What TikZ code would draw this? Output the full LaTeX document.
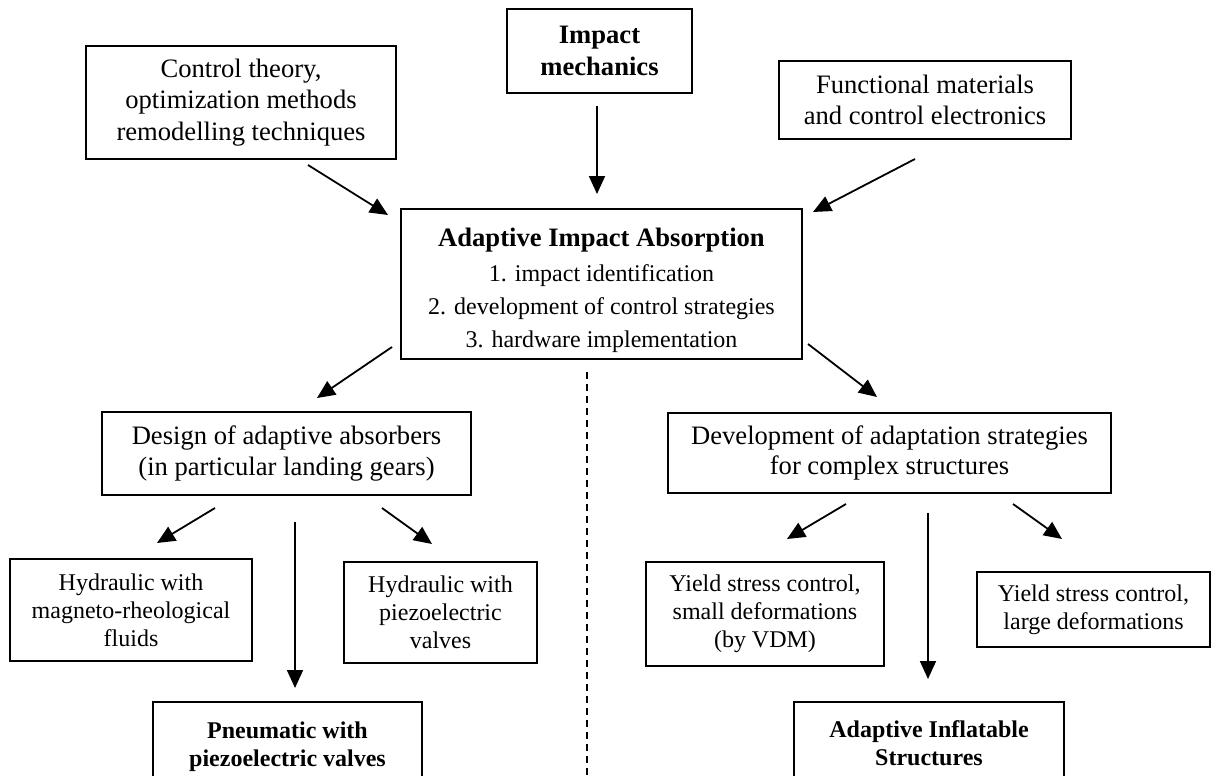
\documentclass[tikz,border=0pt]{standalone}
\usepackage{fontspec}
\setmainfont{Liberation Serif}
\usetikzlibrary{arrows.meta}
\begin{document}
\begin{tikzpicture}
[x=0.5pt,y=-0.5pt,
 box/.style={draw,line width=1pt,inner sep=0pt,align=center,font=\fontsize{13.3}{15.6}\selectfont},
 leaf/.style={box,font=\fontsize{12}{13.9}\selectfont},
 arr/.style={line width=0.9pt,-{Triangle[length=9pt,width=8pt]}}]
\useasboundingbox (0,0) rectangle (1212,776);

\node[box,minimum width=155pt,minimum height=56.5pt] (ctrl) at (241,102.5)
{Control theory,\\optimization methods\\remodelling techniques};
\node[box,minimum width=92.5pt,minimum height=42pt] (imp) at (599.5,51)
{\textbf{Impact}\\\textbf{mechanics}};
\node[box,minimum width=146pt,minimum height=39pt] (func) at (925,100)
{Functional materials\\and control electronics};
\node[box,minimum width=200.5pt,minimum height=75pt,font=\fontsize{12}{16.5}\selectfont] (main) at (601.5,284)
{\rule{0pt}{16pt}{\fontsize{13.3}{16.5}\selectfont\textbf{Adaptive Impact Absorption}}\\[1pt]1. impact identification\\2. development of control strategies\\3. hardware implementation};

\node[box,minimum width=184.5pt,minimum height=41.5pt] (design) at (286.5,453.5)
{Design of adaptive absorbers\\(in particular landing gears)};
\node[box,minimum width=221.5pt,minimum height=40pt,font=\fontsize{13.3}{15}\selectfont] (devel) at (889.5,453)
{Development of adaptation strategies\\for complex structures};

\node[leaf,minimum width=121pt,minimum height=51pt] (hydmr) at (131,610)
{Hydraulic with\\magneto-rheological\\fluids};
\node[leaf,minimum width=96.5pt,minimum height=50.5pt] (hydpz) at (440.5,612.5)
{Hydraulic with\\piezoelectric\\valves};
\node[leaf,minimum width=134.5pt,minimum height=40pt] (pneu) at (287.5,742)
{\rule{0pt}{13pt}\textbf{Pneumatic with}\\\textbf{piezoelectric valves}};
\node[leaf,minimum width=119pt,minimum height=52pt,font=\fontsize{12}{14}\selectfont] (ysmall) at (765,614)
{Yield stress control,\\small deformations\\(by VDM)};
\node[leaf,minimum width=116.5pt,minimum height=37.5pt,font=\fontsize{12}{14}\selectfont] (ylarge) at (1093.5,609.5)
{Yield stress control,\\large deformations};
\node[leaf,minimum width=135pt,minimum height=37.5pt] (infl) at (929,739.5)
{\rule{0pt}{12pt}\textbf{Adaptive Inflatable}\\\textbf{Structures}};

\coordinate (ctrlS) at (308,165);   \coordinate (ctrlE) at (388,215);
\coordinate (impS) at (597,106);    \coordinate (impE) at (597,194);
\coordinate (funcS) at (915,159);   \coordinate (funcE) at (813,212);
\coordinate (mainL) at (392,347);   \coordinate (designN) at (317,398);
\coordinate (mainR) at (808,344);   \coordinate (develN) at (877,397);
\coordinate (desL) at (215,508);    \coordinate (hydmrN) at (157,543);
\coordinate (desM) at (295,522);    \coordinate (pneuN) at (295,688);
\coordinate (desR) at (382,508);    \coordinate (hydpzN) at (432,544);
\coordinate (devL) at (846,504);    \coordinate (ysmallN) at (787,539);
\coordinate (devM) at (928,513);    \coordinate (inflN) at (928,679);
\coordinate (devR) at (1013,504);   \coordinate (ylargeN) at (1062,539);
\coordinate (sepT) at (587,372);    \coordinate (sepB) at (587,776);

\draw[arr] (ctrlS) -- (ctrlE);
\draw[arr] (impS) -- (impE);
\draw[arr] (funcS) -- (funcE);
\draw[arr] (mainL) -- (designN);
\draw[arr] (mainR) -- (develN);
\draw[arr] (desL) -- (hydmrN);
\draw[arr] (desM) -- (pneuN);
\draw[arr] (desR) -- (hydpzN);
\draw[arr] (devL) -- (ysmallN);
\draw[arr] (devM) -- (inflN);
\draw[arr] (devR) -- (ylargeN);

\draw[line width=0.65pt,dash pattern=on 3.5pt off 2.5pt] (sepT) -- (sepB);
\end{tikzpicture}
\end{document}
